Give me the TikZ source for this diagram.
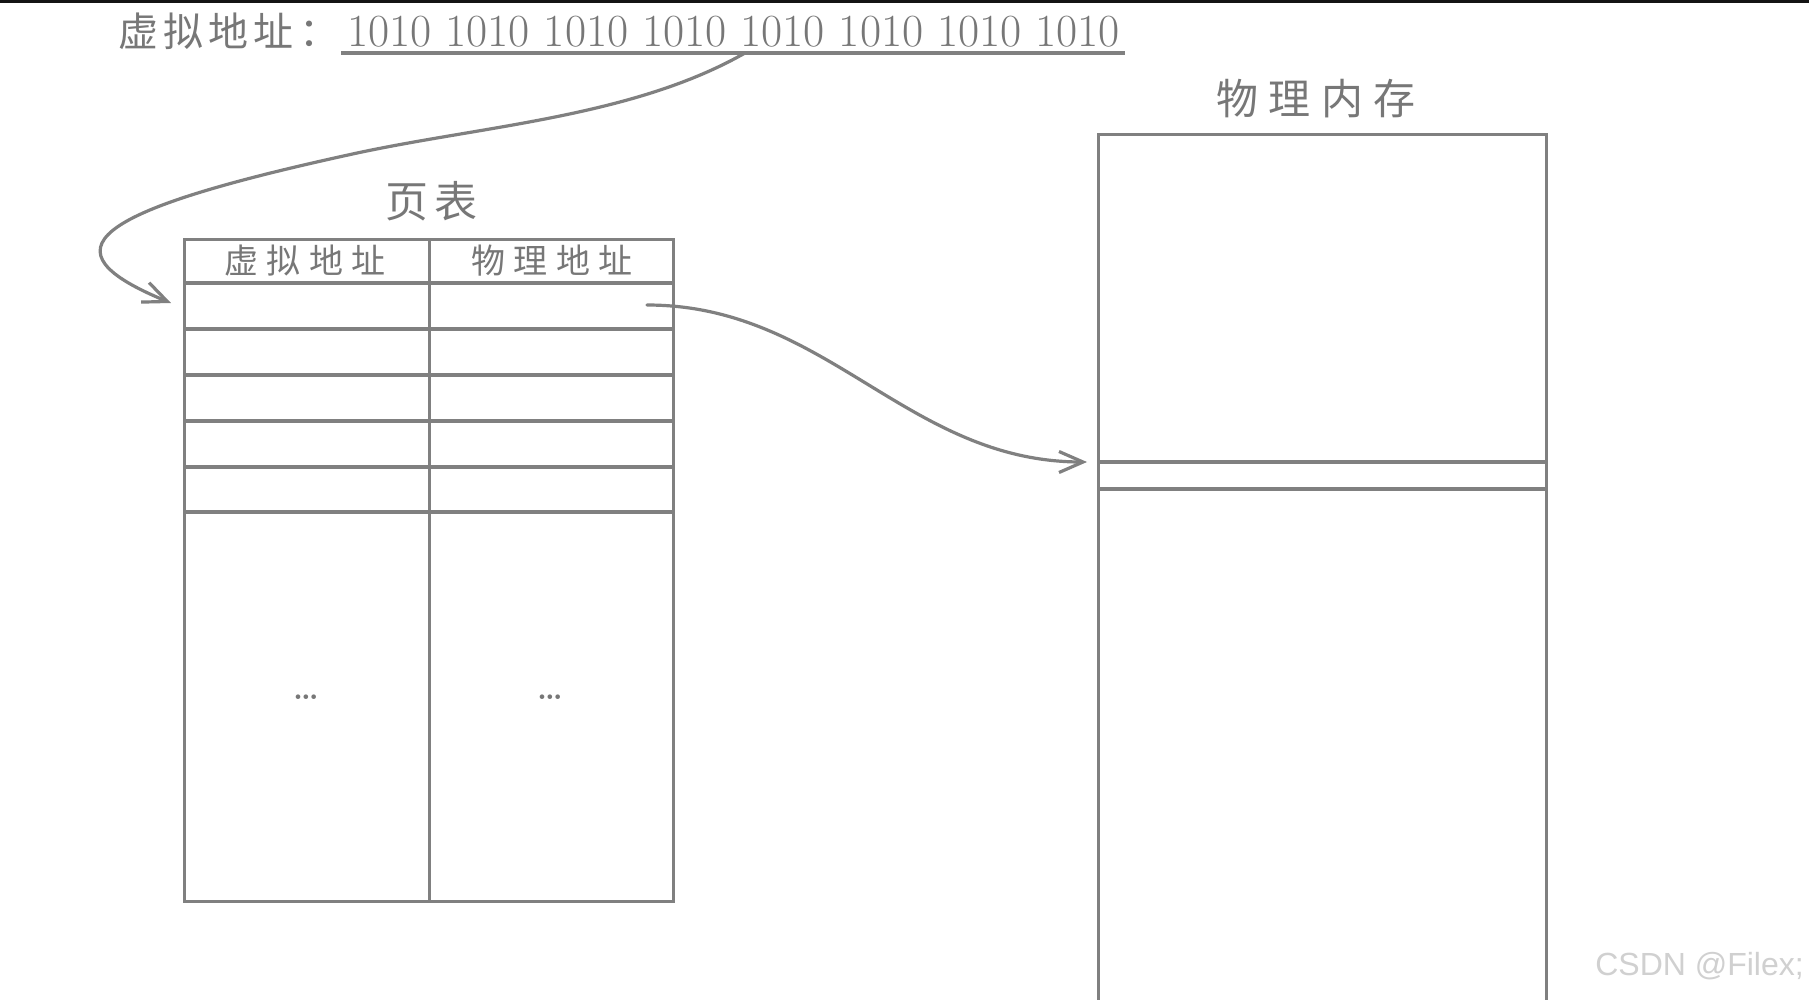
\documentclass[tikz,border=0pt]{standalone}
\usepackage{fontspec}
\newfontfamily\cjk{Noto Sans CJK SC}
\newfontfamily\wmfont{Liberation Sans}
\usetikzlibrary{arrows.meta,positioning}
\definecolor{linegray}{HTML}{808080}
\definecolor{textgray}{HTML}{777777}
\definecolor{markgray}{HTML}{D0D0D0}

\begin{document}
\begin{tikzpicture}[
          x=1pt, y=-1pt,
          box/.style={draw=linegray, line width=3.4pt, inner sep=0pt, anchor=north west},
          grid/.style={draw=linegray, line width=3.4pt},
          label/.style={text=textgray, inner sep=0pt},
          link/.style={draw=linegray, line width=3.2pt, line cap=round,
                       -{Straight Barb[length=24pt, width=21pt]}},
          ]

          \useasboundingbox (0,0) rectangle (1809,999);
          \clip (0,0) rectangle (1809,999);
          \fill[white] (0,0) rectangle (1809,999);
          \fill[black!92] (0,0) rectangle (1809,3);

          % virtual address
          \node[label, anchor=west, font=\cjk\fontsize{40}{40}\selectfont\addfontfeature{LetterSpace=13}] (vatag) at (118,31) {虚拟地址：};
          \node[label, anchor=base west, font=\fontsize{46}{46}\selectfont] (vabits) at (347,46) {1010 1010 1010 1010 1010 1010 1010 1010};
          \draw[grid] (341,53) -- (1125,53);
          \coordinate (pick) at (745,53);

          % page table
          \node[label, font=\cjk\fontsize{43}{43}\selectfont\addfontfeature{LetterSpace=14}] (ptitle) at (432,201) {页表};
          \node[box, minimum width=489pt, minimum height=662pt] (ptab) at (183,238) {};
          \draw[grid] (ptab.north) -- (ptab.south);
          \foreach \y in {283,329,375,421,467,512}
            \draw[grid] (183,\y) -- (672,\y);
          \node[label, font=\cjk\fontsize{34}{34}\selectfont\addfontfeature{LetterSpace=25}] (vhead) at (305,261) {虚拟地址};
          \node[label, font=\cjk\fontsize{34}{34}\selectfont\addfontfeature{LetterSpace=25}] (phead) at (552,261) {物理地址};
          \node[label, font=\bfseries\fontsize{32}{32}\selectfont] (vmore) at (306,697) {\dots};
          \node[label, font=\bfseries\fontsize{32}{32}\selectfont] (pmore) at (550,697) {\dots};
          \coordinate (hit) at (171,303);
          \coordinate (entry) at (647,305);

          % physical memory
          \node[label, font=\cjk\fontsize{42}{42}\selectfont\addfontfeature{LetterSpace=24}] (mtitle) at (1316,99) {物理内存};
          \node[box, minimum width=448pt, minimum height=900pt] (mem) at (1097,133) {};
          \draw[grid] (1097,462) -- (1545,462);
          \draw[grid] (1097,489) -- (1545,489);
          \coordinate (slot) at (1087,462);

          \draw[link] (pick) .. controls (631,118) and (478,126) .. (348,155)
                             .. controls (88,212) and (42,250) .. (hit);
          \draw[link] (entry) .. controls (827,305) and (907,462) .. (slot);

          \node[text=markgray, inner sep=0pt, anchor=east, font=\wmfont\fontsize{32}{32}\selectfont] (mark) at (1804,966) {CSDN @Filex;};

        \end{tikzpicture}
\end{document}
